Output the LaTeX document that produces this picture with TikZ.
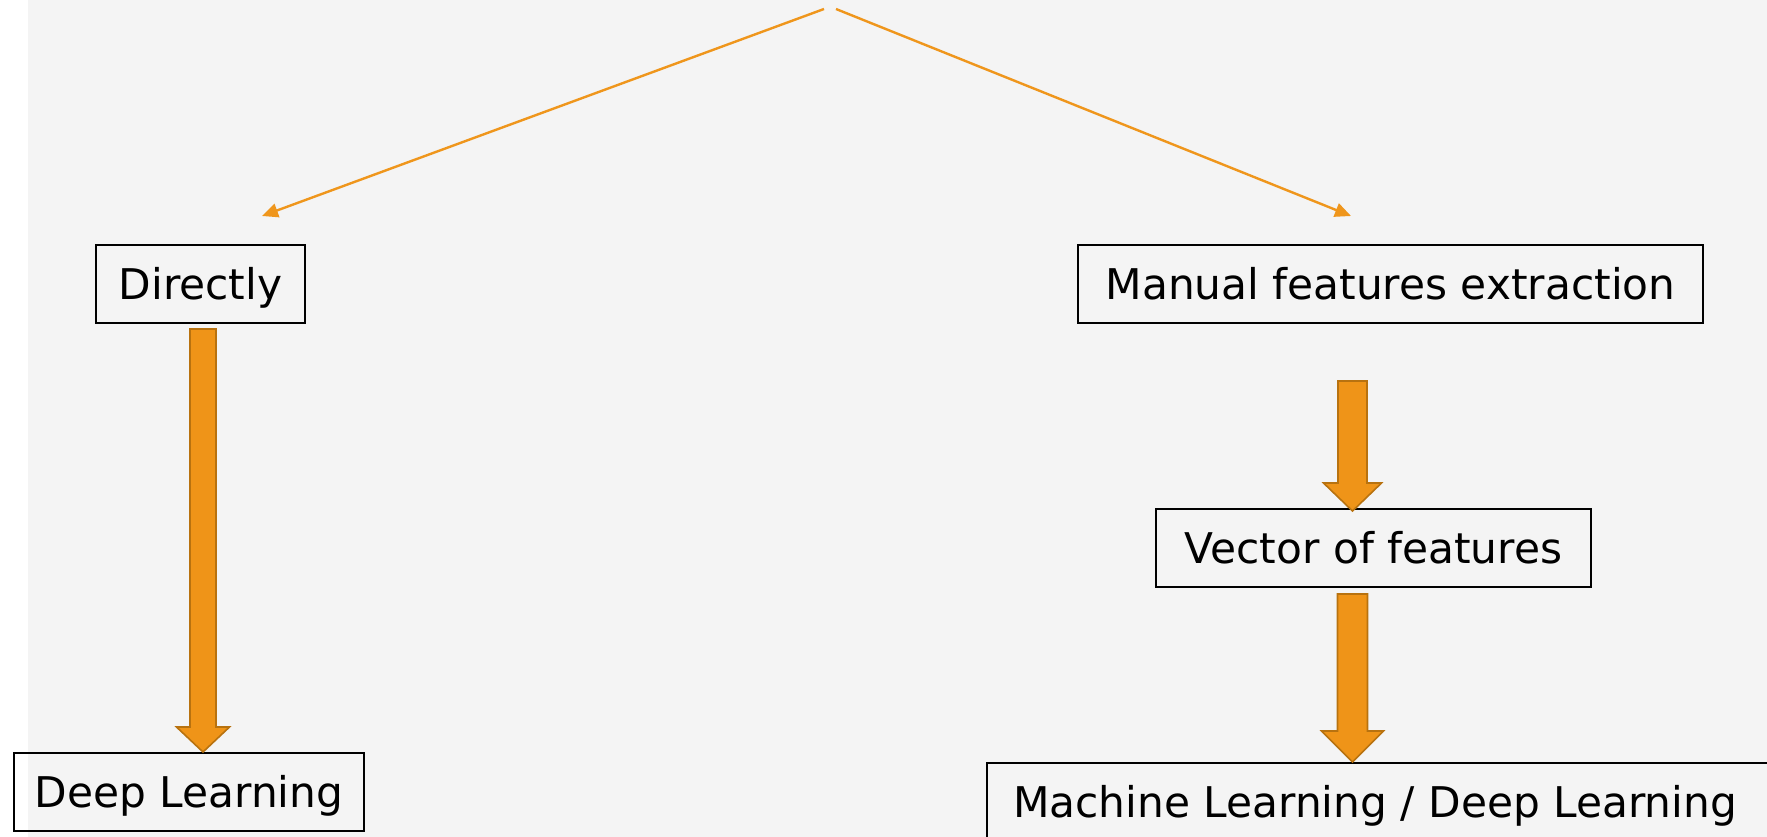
\documentclass[tikz,border=0pt]{standalone}
\usepackage{fontspec}
\setmainfont{DejaVu Sans}
\usetikzlibrary{arrows.meta,calc}
\definecolor{bgray}{HTML}{F4F4F4}
\definecolor{lineorange}{HTML}{EF961C}
\definecolor{arrfill}{HTML}{EF9418}
\definecolor{arrdraw}{HTML}{B8720F}
\tikzset{
  box/.style={draw=black, line width=2pt, inner sep=0pt, text height=30.8pt, text depth=0pt,
    minimum height=78pt, font=\fontsize{42.3}{50}\selectfont},
  conn/.style={draw=lineorange, line width=2.4pt, -{Triangle[length=16pt,width=14pt]}},
  barrow/.style={fill=arrfill, draw=arrdraw, line width=1.6pt, line join=miter}
}
\newcommand{\blockarr}[5]{%
  \path[barrow] let \p1=(#1), \p2=(#2) in
   (\x1-#3pt,\y1) -- (\x1+#3pt,\y1) -- (\x1+#3pt,\y2+#5pt) -- (\x1+#4pt,\y2+#5pt)
   -- (\x1,\y2) -- (\x1-#4pt,\y2+#5pt) -- (\x1-#3pt,\y2+#5pt) -- cycle;}
\begin{document}
\begin{tikzpicture}[x=1pt,y=-1pt]
\useasboundingbox (0,0) rectangle (1767,837);
\fill[white] (0,0) rectangle (1767,837);
\fill[bgray] (28,0) rectangle (1767,837);

\node[box, minimum width=209pt] (dir) at (200.5,284) {Directly};
\node[box, minimum width=625pt] (man) at (1390.5,284) {Manual features extraction};
\node[box, minimum width=435pt] (vec) at (1373.5,548) {Vector of features};
\node[box, minimum width=350pt] (dl) at (189,792) {Deep Learning};
\node[box, minimum width=802pt] (ml) at (1388,802) {\hspace*{-26pt}Machine Learning / Deep Learning};

\coordinate (srcL) at (824,9);
\coordinate (srcR) at (836,9);
\coordinate (tipL) at (262,216);
\coordinate (tipR) at (1351,216);
\draw[conn] (srcL) -- (tipL);
\draw[conn] (srcR) -- (tipR);

\coordinate (a1s) at ($(dir.south)+(2.5,5)$);
\coordinate (a1t) at ($(dl.north)+(14,0)$);
\blockarr{a1s}{a1t}{13}{26.5}{25}
\coordinate (a2s) at ($(man.south)+(-38,57)$);
\coordinate (a2t) at ($(vec.north)+(-21,3)$);
\blockarr{a2s}{a2t}{14.5}{29}{28}
\coordinate (a3s) at ($(vec.south)+(-21,6)$);
\coordinate (a3t) at ($(ml.north)+(-35.5,0)$);
\blockarr{a3s}{a3t}{15}{31}{31}
\end{tikzpicture}
\end{document}
